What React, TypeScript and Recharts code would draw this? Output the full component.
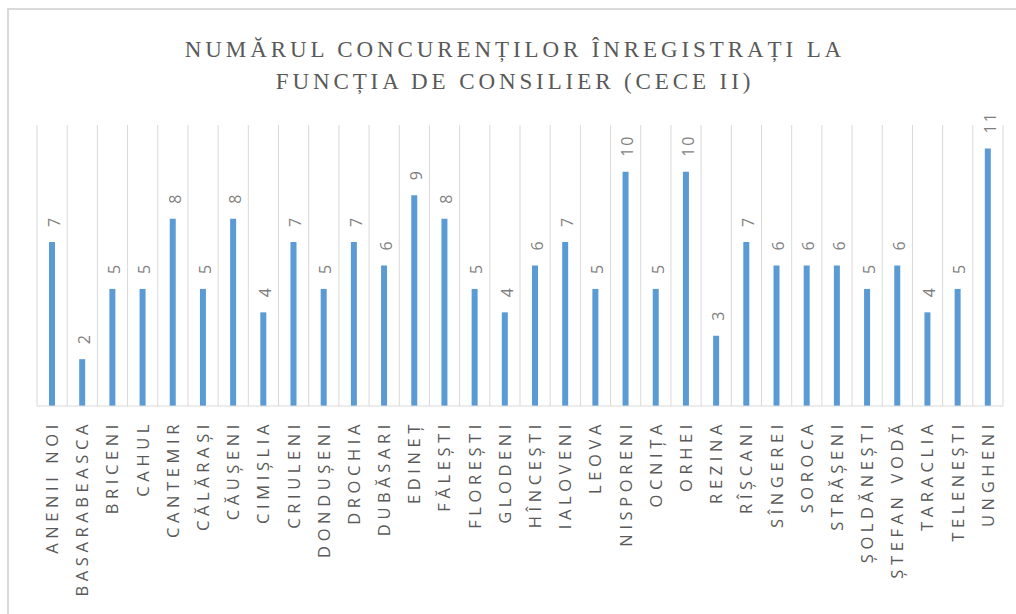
import React from 'react';
import { BarChart, Bar, XAxis, YAxis, CartesianGrid, LabelList } from 'recharts';

const RAIOANE = [
  'ANENII NOI', 'BASARABEASCA', 'BRICENI', 'CAHUL', 'CANTEMIR', 'CĂLĂRAȘI', 'CĂUȘENI', 'CIMIȘLIA',
  'CRIULENI', 'DONDUȘENI', 'DROCHIA', 'DUBĂSARI', 'EDINEȚ', 'FĂLEȘTI', 'FLOREȘTI', 'GLODENI',
  'HÎNCEȘTI', 'IALOVENI', 'LEOVA', 'NISPORENI', 'OCNIȚA', 'ORHEI', 'REZINA', 'RÎȘCANI',
  'SÎNGEREI', 'SOROCA', 'STRĂȘENI', 'ȘOLDĂNEȘTI', 'ȘTEFAN VODĂ', 'TARACLIA', 'TELENEȘTI', 'UNGHENI',
];
const CONCURENTI = [7, 2, 5, 5, 8, 5, 8, 4, 7, 5, 7, 6, 9, 8, 5, 4, 6, 7, 5, 10, 5, 10, 3, 7, 6, 6, 6, 5, 6, 4, 5, 11];
const TITLU = ['NUMĂRUL CONCURENȚILOR ÎNREGISTRAȚI LA', 'FUNCȚIA DE CONSILIER (CECE II)'];

const data = RAIOANE.map((name, i) => ({ name, value: CONCURENTI[i] }));

const GRAY = '#595959';

function RotatedTick({ x, y, payload }: any) {
  return (
    <g transform={`translate(${x},${y + 14})`}>
      <text
        transform="rotate(-90)"
        textAnchor="end"
        dy="0.36em"
        fill={GRAY}
        fontSize={16.5}
        fontFamily="'Open Sans', sans-serif"
        letterSpacing={4.6}
      >
        {payload.value}
      </text>
    </g>
  );
}

function ValueLabel({ x, y, width, value }: any) {
  const cx = x + width / 2 + 2;
  const cy = y - 15;
  return (
    <text
      transform={`translate(${cx},${cy}) rotate(-90)`}
      textAnchor="start"
      dy="0.36em"
      fill="#7f7f7f"
      fontSize={16}
      fontFamily="'Open Sans', sans-serif"
      letterSpacing={2}
    >
      {value}
    </text>
  );
}

export default function App() {
  return (
    <div style={{ position: 'fixed', left: 0, top: 0, width: 1016, height: 614, background: '#fff', overflow: 'hidden' }}>
      <div
        style={{
          position: 'absolute', left: 7, top: 8, width: 1020, height: 620,
          borderTop: '2px solid #d9d9d9', borderLeft: '2px solid #d9d9d9',
        }}
      />
      <div
        style={{
          position: 'absolute', left: 0, top: 34, width: 1030, textAlign: 'center',
          fontFamily: "'Liberation Serif', serif", fontSize: 23, lineHeight: '32px',
          letterSpacing: 3.9, color: GRAY,
        }}
      >
        {TITLU.map((t) => (
          <div key={t}>{t}</div>
        ))}
      </div>
      <div style={{ position: 'absolute', left: 0, top: 0 }}>
        <BarChart width={1016} height={614} data={data} margin={{ top: 125, right: 13, bottom: 8, left: 37 }}>
          <CartesianGrid
            horizontal={false}
            stroke="#d9d9d9"
            verticalCoordinatesGenerator={({ offset }: any) =>
              RAIOANE.map((_, i) => offset.left + (i * offset.width) / RAIOANE.length).concat(offset.left + offset.width)
            }
          />
          <XAxis
            dataKey="name"
            interval={0}
            height={200}
            tickLine={false}
            tickSize={0}
            tickMargin={0}
            axisLine={{ stroke: '#d9d9d9' }}
            tick={<RotatedTick />}
          />
          <YAxis hide domain={[0, 12]} />
          <Bar dataKey="value" fill="#5B9BD5" barSize={6} isAnimationActive={false}>
            <LabelList dataKey="value" content={<ValueLabel />} />
          </Bar>
        </BarChart>
      </div>
    </div>
  );
}
